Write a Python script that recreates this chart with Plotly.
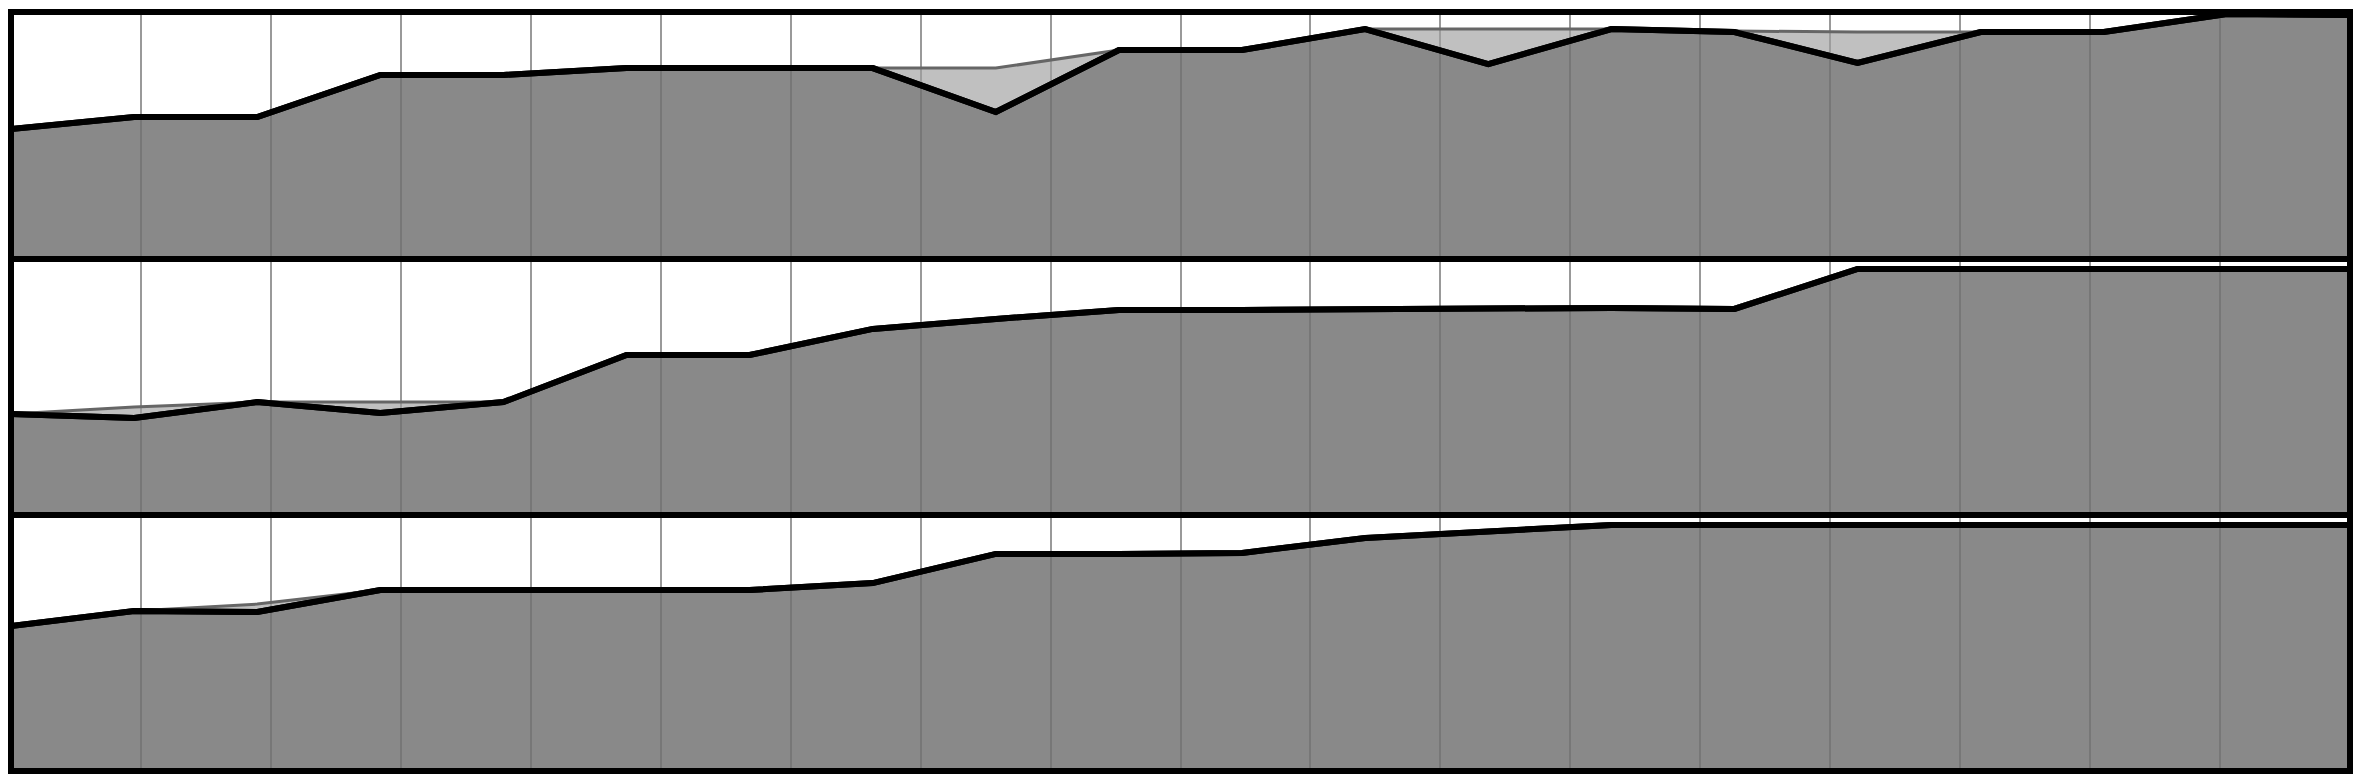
import plotly.graph_objects as go
from plotly.subplots import make_subplots

# x positions (20 samples)
x_vals = list(range(20))

# Panel 1 (top)
p1_actual = [52.6, 57.5, 57.5, 74.5, 74.5, 77.3, 77.3, 77.3, 59.5, 84.6,
             84.6, 93.1, 78.9, 93.1, 91.9, 79.4, 91.9, 91.9, 99.2, 98.8]
p1_envelope = [52.6, 57.5, 57.5, 74.5, 74.5, 77.3, 77.3, 77.3, 77.3, 84.6,
               84.6, 93.1, 93.1, 93.1, 92.3, 91.9, 91.9, 91.9, 99.2, 98.8]

# Panel 2 (middle)
p2_actual = [39.5, 37.9, 44.1, 39.8, 44.1, 62.5, 62.5, 72.7, 76.6, 80.1,
             80.1, 80.5, 80.5, 80.9, 80.5, 96.1, 96.1, 96.1, 96.1, 96.1]
p2_envelope = [39.5, 42.2, 44.1, 44.1, 44.1, 62.5, 62.5, 72.7, 76.6, 80.1,
               80.1, 80.5, 80.7, 80.9, 81.2, 96.1, 96.1, 96.1, 96.1, 96.1]

# Panel 3 (bottom)
p3_actual = [56.6, 62.5, 62.1, 70.7, 70.7, 70.7, 70.7, 73.4, 84.8, 84.8,
             85.2, 91.0, 93.8, 96.1, 96.1, 96.1, 96.1, 96.1, 96.1, 96.1]
p3_envelope = [56.6, 62.5, 65.2, 70.7, 70.7, 70.7, 70.7, 73.4, 84.8, 84.8,
               85.2, 91.0, 93.8, 96.1, 96.1, 96.1, 96.1, 96.1, 96.1, 96.1]

panels = [(p1_actual, p1_envelope), (p2_actual, p2_envelope), (p3_actual, p3_envelope)]

fig = make_subplots(rows=3, cols=1, shared_xaxes=False, vertical_spacing=0)

for r, (act, env) in enumerate(panels, start=1):
    fig.add_trace(go.Scatter(x=x_vals, y=act, mode="lines", fill="tozeroy",
                             fillcolor="rgba(111,111,111,0.82)",
                             line=dict(color="black", width=6),
                             showlegend=False, hoverinfo="skip"), row=r, col=1)
    fig.add_trace(go.Scatter(x=x_vals, y=env, mode="lines", fill="tonexty",
                             fillcolor="rgba(160,160,160,0.66)",
                             line=dict(color="#666666", width=3),
                             showlegend=False, hoverinfo="skip"), row=r, col=1)
    fig.add_trace(go.Scatter(x=x_vals, y=act, mode="lines",
                             line=dict(color="black", width=6),
                             showlegend=False, hoverinfo="skip"), row=r, col=1)

H = 759.0
domains = [((771 - 259) / H, 1.0), ((771 - 515) / H, (771 - 259) / H), (0.0, (771 - 515) / H)]

for r in range(1, 4):
    xa = "xaxis" if r == 1 else f"xaxis{r}"
    ya = "yaxis" if r == 1 else f"yaxis{r}"
    fig.layout[xa].update(range=[0, 19], tick0=0, dtick=19 / 18, showgrid=True,
                          gridcolor="#999999", gridwidth=1.5, showticklabels=False,
                          ticks="", zeroline=False, showline=False)
    fig.layout[ya].update(range=[0, 100], showgrid=False, showticklabels=False,
                          ticks="", zeroline=False, showline=False,
                          domain=list(domains[r - 1]))
    d0, d1 = domains[r - 1]
    fig.add_shape(type="rect", xref="paper", yref="paper", x0=0, x1=1, y0=d0, y1=d1,
                  line=dict(color="black", width=6), fillcolor="rgba(0,0,0,0)",
                  layer="above")

fig.update_layout(width=2346, height=767, margin=dict(l=3, r=4, t=4, b=4),
                  paper_bgcolor="white", plot_bgcolor="white")

fig.write_html("out.html")
